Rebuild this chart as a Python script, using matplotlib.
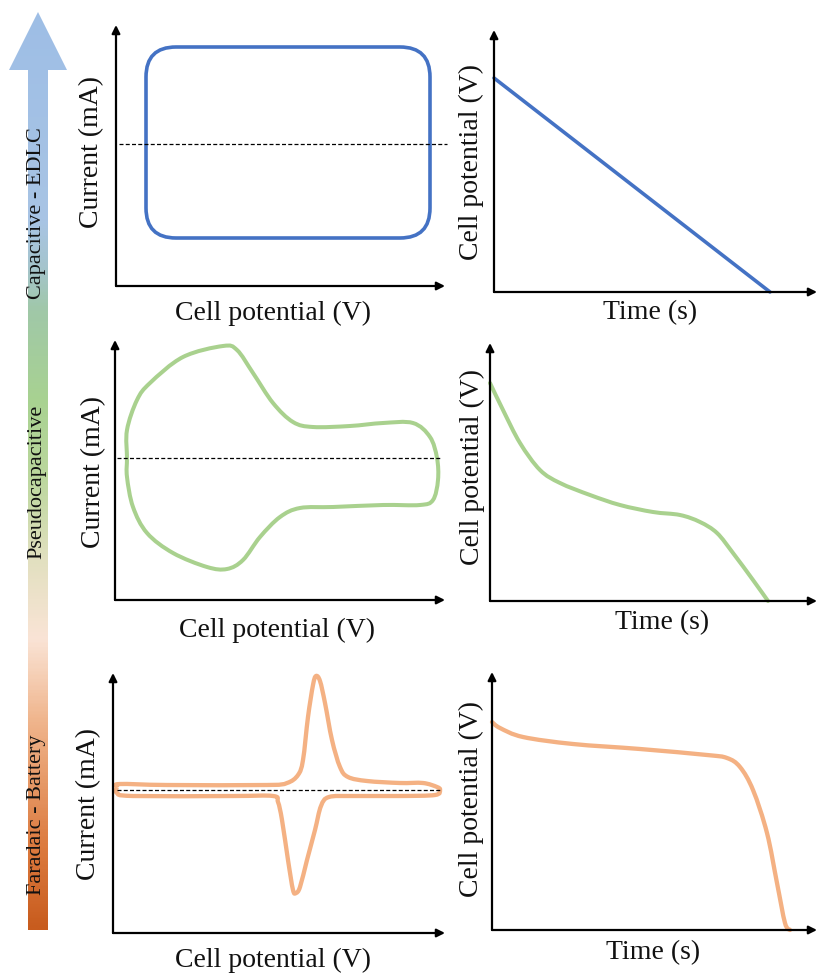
import numpy as np
import matplotlib
matplotlib.use("Agg")
import matplotlib.pyplot as plt
from matplotlib.path import Path
from matplotlib.patches import PathPatch, FancyBboxPatch, Polygon
from matplotlib.colors import LinearSegmentedColormap

plt.rcParams['font.family'] = ['Liberation Serif', 'DejaVu Serif']

W, H = 819, 975
BLUE = '#4472C4'
GREEN = '#A9D18E'
ORANGE = '#F4B183'

# ---- Capacitive (EDLC): rectangular CV and linear discharge (arbitrary units)
edlc_cv_potential = [30, 314]          # E_min, E_max
edlc_cv_current = [-94, 97]            # cathodic, anodic plateau
edlc_cv_corner = 30
edlc_time = [0, 276]
edlc_voltage = [214, 0]

# ---- Pseudocapacitive: broad-hump CV and sloping discharge
pseudo_cv_potential = [12, 12, 22, 35, 68, 108, 122, 138, 158, 178, 198, 235, 268,
                       298, 315, 322, 323, 318, 305, 268, 218, 185, 165, 145, 128,
                       112, 92, 58, 32, 18, 12]
pseudo_cv_current = [0, 28, 58, 75, 101, 112, 108, 85, 55, 36, 31, 32, 35,
                     35, 21, 0, -22, -42, -47, -47, -49, -50, -59, -79, -102,
                     -111, -109, -95, -75, -49, -19]
pseudo_time = [0, 13, 30, 50, 70, 100, 130, 163, 190, 210, 227, 243, 263, 278]
pseudo_voltage = [218, 191, 158, 131, 118, 106, 96, 89, 86, 79, 68, 48, 21, 0]

# ---- Faradaic (battery): sharp redox peaks and flat plateau discharge
battery_cv_potential = [4, 7, 54, 154, 174, 185, 190, 195, 200, 203, 207, 212, 219,
                        227, 235, 254, 287, 310, 324, 327,
                        322, 287, 240, 216, 208, 202, 194, 187, 183, 180, 175, 169,
                        165, 160, 120, 20, 4]
battery_cv_current = [3, 6, 5, 5, 7, 15, 30, 73, 105, 114, 109, 87, 50,
                      23, 13, 9, 7, 7, 3, 0,
                      -5, -6, -6, -7, -16, -40, -70, -97, -103, -100, -70, -30,
                      -12, -6, -6, -6, -3]
battery_time = [0, 8, 31, 81, 148, 215, 235, 248, 261, 275, 285, 293, 298]
battery_voltage = [208, 202, 193, 186, 181, 175, 172, 163, 140, 97, 47, 7, 0]

# Panel frames in pixels: (x_origin, y_origin, x_right, y_top, zero-current row)
frames = {
    'edlc_cv': (116, 286, 445, 25, 144),
    'edlc_gcd': (494, 292, 817, 30, None),
    'pseudo_cv': (115, 600, 445, 340, 458),
    'pseudo_gcd': (490, 601, 817, 343, None),
    'batt_cv': (113, 933, 445, 673, 790),
    'batt_gcd': (492, 930, 817, 672, None),
}


def smooth_path(xs, ys, closed):
    """Catmull-Rom curve through the given points as a cubic Bezier path."""
    P = np.column_stack([xs, ys]).astype(float)
    n = len(P)
    if closed:
        get = lambda i: P[i % n]
        nseg = n
    else:
        get = lambda i: P[min(max(i, 0), n - 1)]
        nseg = n - 1
    verts = [P[0]]
    codes = [Path.MOVETO]
    for i in range(nseg):
        p0, p1, p2, p3 = get(i - 1), get(i), get(i + 1), get(i + 2)
        c1 = p1 + (p2 - p0) / 6.0
        c2 = p2 - (p3 - p1) / 6.0
        verts += [c1, c2, p2]
        codes += [Path.CURVE4] * 3
    return Path(np.array(verts), codes)


fig = plt.figure(figsize=(W / 100, H / 100), dpi=100)

# ---- gradient arrow on the left
bg = fig.add_axes([0, 0, 1, 1])
bg.set_xlim(0, W)
bg.set_ylim(H, 0)
bg.axis('off')
stops = [(12, (158, 190, 230)), (220, (168, 196, 228)), (265, (165, 196, 205)),
         (310, (160, 200, 168)), (400, (168, 210, 145)), (480, (188, 215, 158)),
         (560, (226, 224, 192)), (640, (250, 228, 214)), (720, (240, 182, 142)),
         (850, (220, 122, 62)), (930, (200, 92, 30))]
pos = [(s[0] - 12) / (930 - 12) for s in stops]
cmap = LinearSegmentedColormap.from_list(
    'scale', [(p, tuple(c / 255 for c in s[1])) for p, s in zip(pos, stops)])
grad = np.linspace(0, 1, 600).reshape(-1, 1)
img = bg.imshow(grad, cmap=cmap, extent=(5, 72, 930, 12), aspect='auto',
                interpolation='bilinear', origin='upper')
arrow_shape = Polygon([(28, 930), (28, 70), (9, 70), (38, 12), (67, 70), (48, 70), (48, 930)],
                      closed=True, facecolor='none', edgecolor='none', transform=bg.transData)
bg.add_patch(arrow_shape)
img.set_clip_path(arrow_shape)

for label, yc in [('Capacitive - EDLC', 213), ('Pseudocapacitive', 482), ('Faradaic - Battery', 815)]:
    bg.text(37, yc, label, rotation=90, ha='center', va='center', fontsize=16, color='#111111')


def make_axes(key):
    x0, y0, xr, yt, zero = frames[key]
    ax = fig.add_axes([x0 / W, 1 - y0 / H, (xr - x0) / W, (y0 - yt) / H])
    ax.set_facecolor('none')
    if zero is None:
        ax.set_ylim(0, y0 - yt)
    else:
        ax.set_ylim(zero - y0, zero - yt)
    ax.set_xlim(0, xr - x0)
    for s in ax.spines.values():
        s.set_visible(False)
    ax.set_xticks([])
    ax.set_yticks([])
    ap = dict(arrowstyle='-|>', color='black', lw=1.6, mutation_scale=12, shrinkA=0, shrinkB=0)
    ax.annotate('', xy=(1, 0), xytext=(0, 0), xycoords='axes fraction', arrowprops=ap,
                annotation_clip=False)
    ax.annotate('', xy=(0, 1), xytext=(0, 0), xycoords='axes fraction', arrowprops=ap,
                annotation_clip=False)
    return ax


def zero_line(ax, x_from, x_to):
    ax.plot([x_from, x_to], [0, 0], color='black', lw=0.9, ls=(0, (3.2, 1.8)), clip_on=False, zorder=3)


def label(x, y, s, rot=0):
    fig.text(x / W, 1 - y / H, s, ha='center', va='center', fontsize=20, rotation=rot, color='#111111')


# ---- EDLC CV
ax = make_axes('edlc_cv')
e0, e1 = edlc_cv_potential
i0, i1 = edlc_cv_current
box = FancyBboxPatch((e0, i0), e1 - e0, i1 - i0,
                     boxstyle=f'round,pad=0,rounding_size={edlc_cv_corner}',
                     fill=False, edgecolor=BLUE, lw=2.6)
ax.add_patch(box)
zero_line(ax, 3, 331)

# ---- EDLC discharge
ax = make_axes('edlc_gcd')
ax.plot(edlc_time, edlc_voltage, color=BLUE, lw=2.6, solid_capstyle='round', clip_on=False)

# ---- Pseudocapacitive CV
ax = make_axes('pseudo_cv')
ax.add_patch(PathPatch(smooth_path(pseudo_cv_potential, pseudo_cv_current, True),
                       fill=False, edgecolor=GREEN, lw=2.9, joinstyle='round'))
zero_line(ax, 2, 326)

# ---- Pseudocapacitive discharge
ax = make_axes('pseudo_gcd')
ax.add_patch(PathPatch(smooth_path(pseudo_time, pseudo_voltage, False),
                       fill=False, edgecolor=GREEN, lw=2.9, capstyle='round', clip_on=False))

# ---- Battery CV
ax = make_axes('batt_cv')
ax.add_patch(PathPatch(smooth_path(battery_cv_potential, battery_cv_current, True),
                       fill=False, edgecolor=ORANGE, lw=3.1, joinstyle='round'))
zero_line(ax, 4, 327)

# ---- Battery discharge
ax = make_axes('batt_gcd')
ax.add_patch(PathPatch(smooth_path(battery_time, battery_voltage, False),
                       fill=False, edgecolor=ORANGE, lw=3.1, capstyle='round', clip_on=False))

# ---- axis titles
label(273, 313, 'Cell potential (V)')
label(92, 152, 'Current (mA)', 90)
label(650, 313, 'Time (s)')
label(471, 162, 'Cell potential (V)', 90)

label(277, 630, 'Cell potential (V)')
label(94, 472, 'Current (mA)', 90)
label(662, 623, 'Time (s)')
label(472, 467, 'Cell potential (V)', 90)

label(273, 960, 'Cell potential (V)')
label(89, 804, 'Current (mA)', 90)
label(653, 953, 'Time (s)')
label(471, 799, 'Cell potential (V)', 90)

fig.savefig('out.png', dpi=100)
